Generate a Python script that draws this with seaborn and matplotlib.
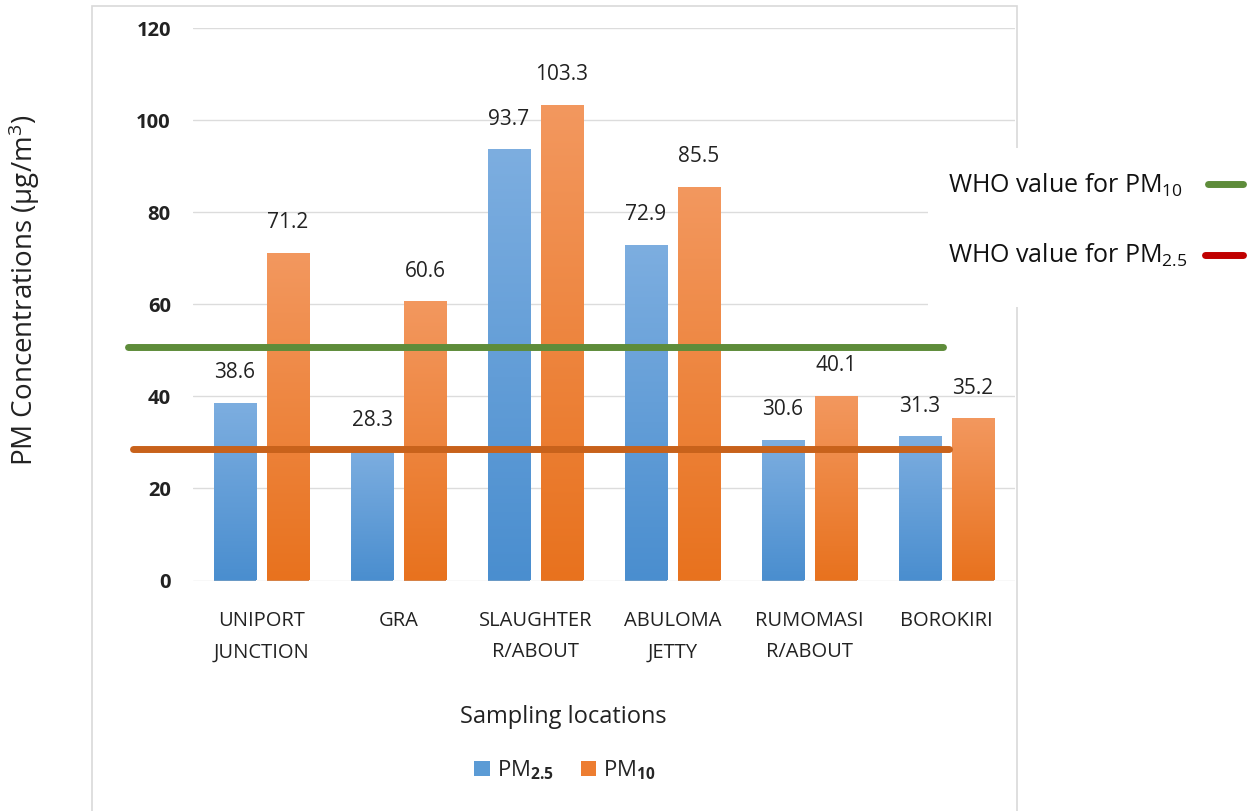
import numpy as np
import pandas as pd
import matplotlib
matplotlib.use("Agg")
import matplotlib.pyplot as plt
from matplotlib import font_manager
from matplotlib.patches import Rectangle, Patch
from matplotlib.lines import Line2D
import seaborn as sns

# Data
locations = ["UNIPORT\nJUNCTION", "GRA", "SLAUGHTER\nR/ABOUT", "ABULOMA\nJETTY",
             "RUMOMASI\nR/ABOUT", "BOROKIRI"]
pm25 = [38.6, 28.3, 93.7, 72.9, 30.6, 31.3]
pm10 = [71.2, 60.6, 103.3, 85.5, 40.1, 35.2]
series_names = ["PM2.5", "PM10"]
who_pm10_level = 50.7
who_pm25_level = 28.6
y_ticks = [0, 20, 40, 60, 80, 100, 120]

sns.set_theme(style="white")
names = {f.name for f in font_manager.fontManager.ttflist}
main_font = "Liberation Sans Narrow" if "Liberation Sans Narrow" in names else "Open Sans"
plt.rcParams["font.family"] = [main_font, "DejaVu Sans"]
plt.rcParams["mathtext.fontset"] = "custom"
plt.rcParams["mathtext.rm"] = main_font
plt.rcParams["mathtext.bf"] = main_font + ":bold"
plt.rcParams["mathtext.it"] = main_font

df = pd.DataFrame({
    "location": locations * 2,
    "value": pm25 + pm10,
    "series": [series_names[0]] * len(locations) + [series_names[1]] * len(locations),
})

W, H = 1248, 811
fig = plt.figure(figsize=(W / 100, H / 100), dpi=100)
ax = fig.add_axes([193 / W, 1 - 580.5 / H, 822 / W, (580.5 - 28) / H])

blue, orange = "#5B9BD5", "#ED7D31"
sns.barplot(data=df, x="location", y="value", hue="series", order=locations,
            hue_order=series_names, palette=[blue, orange], width=0.773, gap=0.2,
            ax=ax, legend=False, zorder=2, linewidth=0)

# vertical gradient fill on each bar
grad_colors = {
    0: ("#7DAEE0", "#4A8ECF"),
    1: ("#F3985F", "#E8721E"),
}
for i, cont in enumerate(ax.containers):
    top_c, bot_c = grad_colors[i]
    cmap = matplotlib.colors.LinearSegmentedColormap.from_list("g", [bot_c, top_c])
    for bar in cont:
        x0, y0 = bar.get_x(), bar.get_y()
        w, h = bar.get_width(), bar.get_height()
        grad = np.linspace(0, 1, 256).reshape(-1, 1)
        im = ax.imshow(grad, cmap=cmap, origin="lower", aspect="auto",
                       extent=[x0, x0 + w, y0, y0 + h], zorder=2.1)
        im.set_clip_path(bar)
    ax.bar_label(cont, fmt="%.1f", padding=14, fontsize=15, color="#222222")

ax.set_xlim(-0.5, len(locations) - 0.5)
ax.set_ylim(0, 120)
ax.set_yticks(y_ticks)
ax.set_yticklabels([str(t) for t in y_ticks], fontweight="bold", fontsize=14.5)
ax.tick_params(axis="y", length=0, pad=16, colors="#222222")
ax.tick_params(axis="x", length=0, pad=22, labelsize=14.5, colors="#222222")
for lab in ax.get_xticklabels():
    lab.set_linespacing(1.75)
ax.grid(axis="y", color="#DCDCDC", linewidth=1, zorder=0)
ax.set_axisbelow(True)
for s in ax.spines.values():
    s.set_visible(False)

# WHO guideline lines, extending past the plotting area
ax.axhline(who_pm10_level, xmin=-0.079, xmax=0.912, color="#5E8C3A",
           linewidth=5, clip_on=False, zorder=4)
ax.axhline(who_pm25_level, xmin=-0.073, xmax=0.920, color="#C8621B",
           linewidth=5, clip_on=False, zorder=4)

ax.set_xlabel("Sampling locations", fontsize=17, color="#222222")
ax.set_ylabel("PM Concentrations (µg/m$^3$)", fontsize=20, color="#222222")
ax.yaxis.set_label_coords(-(193 - 42) / 822, (580.5 - 290) / 552.5)
ax.xaxis.set_label_coords((563 - 193) / 822, -(705 - 580.5) / 552.5)

# outer chart frame
fig.patches.append(Rectangle((92 / W, -0.02), (1017 - 92) / W, 1.02 - 6 / H,
                             transform=fig.transFigure, fill=False,
                             edgecolor="#D9D9D9", linewidth=1.2, zorder=0))

# series legend below the chart
handles = [Patch(facecolor=blue, edgecolor="none"), Patch(facecolor=orange, edgecolor="none")]
labels = [r"PM$_{\mathbf{2.5}}$", r"PM$_{\mathbf{10}}$"]
fig.legend(handles, labels, loc="center", bbox_to_anchor=(565 / W, 1 - 770 / H),
           ncol=2, frameon=False, fontsize=16, handlelength=0.7, handleheight=0.7,
           handletextpad=0.3, columnspacing=1.2)

# WHO guideline key on the right
fig.patches.append(Rectangle((928 / W, 1 - 307 / H), (W - 928) / W, (307 - 148) / H,
                             transform=fig.transFigure, facecolor="white",
                             edgecolor="none", zorder=5))
fig.text(948 / W, 1 - 185 / H, r"WHO value for PM$_{10}$", fontsize=18,
         va="center", ha="left", color="#111111", zorder=6)
fig.text(948 / W, 1 - 255 / H, r"WHO value for PM$_{2.5}$", fontsize=18,
         va="center", ha="left", color="#111111", zorder=6)
fig.add_artist(Line2D([1208 / W, 1243 / W], [1 - 184 / H] * 2, color="#5E8C3A",
                      linewidth=5, transform=fig.transFigure, zorder=6))
fig.add_artist(Line2D([1205 / W, 1243 / W], [1 - 255 / H] * 2, color="#C00000",
                      linewidth=5, transform=fig.transFigure, zorder=6))

fig.savefig("out.png", dpi=100, facecolor="white")
